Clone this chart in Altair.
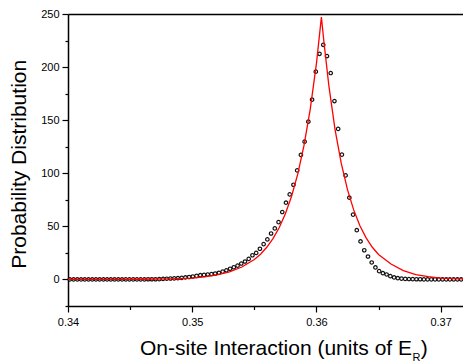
import altair as alt
import pandas as pd

# Sampled probability distribution on a uniform grid of on-site interaction values
U_START = 0.34015
U_STEP = 0.0003
prob = [
    0.0, 0.0, 0.0, 0.0, 0.0, 0.0, 0.0, 0.0, 0.0, 0.0,
    0.0, 0.0, 0.0, 0.0, 0.0, 0.1, 0.1, 0.1, 0.1, 0.1,
    0.1, 0.2, 0.2, 0.2, 0.3, 0.5, 0.7, 0.9, 1.0, 1.2,
    1.5, 1.9, 2.3, 2.8, 3.4, 4.0, 4.3, 4.7, 5.1, 5.6,
    6.3, 7.4, 8.6, 10.1, 11.5, 13.0, 15.0, 16.9, 19.4, 22.8,
    25.0, 28.9, 33.3, 37.7, 43.3, 48.1, 54.0, 63.5, 72.3, 80.1,
    89.2, 102.7, 117.3, 129.8, 148.6, 169.3, 195.7, 212.5, 221.0, 210.4,
    194.4, 168.0, 141.8, 117.6, 98.0, 77.0, 61.1, 46.4, 35.8, 27.5,
    21.6, 16.0, 11.3, 7.8, 5.9, 4.7, 3.1, 1.9, 1.2, 0.8,
    0.5, 0.4, 0.3, 0.2, 0.2, 0.1, 0.1, 0.1, 0.1, 0.1,
    0.0, 0.0, 0.0, 0.0, 0.0, 0.0,
]
u_points = [round(U_START + U_STEP * k, 5) for k in range(len(prob))]

# Fitted curve
fit_u = [0.340, 0.342, 0.344, 0.346, 0.348, 0.349, 0.350, 0.351, 0.352, 0.353,
         0.354, 0.355, 0.3555, 0.356, 0.3565, 0.357, 0.3575, 0.358, 0.3585, 0.359,
         0.3595, 0.360, 0.3604, 0.3606, 0.361, 0.3615, 0.362, 0.3625, 0.363, 0.3635,
         0.364, 0.3645, 0.365, 0.366, 0.367, 0.368, 0.369, 0.370, 0.371, 0.372]
fit_p = [0.0, 0.0, 0.1, 0.2, 0.5, 0.8, 1.3, 2.4, 4.3, 7.2,
         11.7, 18.8, 23.8, 30.3, 38.4, 48.7, 61.8, 78.4, 99.5, 126.2,
         160.2, 203.2, 247.0, 224.1, 182.5, 141.2, 109.3, 84.6, 65.5, 50.6,
         39.2, 30.3, 23.5, 14.5, 8.4, 4.6, 2.6, 1.3, 0.7, 0.4]

x_ticks = [0.34, 0.345, 0.35, 0.355, 0.36, 0.365, 0.37]
y_ticks = [-25, 0, 25, 50, 75, 100, 125, 150, 175, 200, 225, 250]

X_DOMAIN = [0.34, 0.3718]
Y_DOMAIN = [-25, 250]
FONT = "Liberation Sans"

points_df = pd.DataFrame({"u": u_points, "p": prob})
fit_df = pd.DataFrame({"u": fit_u, "p": fit_p})

x_scale = alt.Scale(domain=X_DOMAIN, nice=False, zero=False)
y_scale = alt.Scale(domain=Y_DOMAIN, nice=False, zero=False)

x_axis_bottom = alt.Axis(
    orient="bottom",
    values=x_ticks,
    labelExpr="round(datum.value * 1000) % 10 === 0 ? format(datum.value, '.2f') : ''",
    tickSize={"condition": {"test": "round(datum.value * 1000) % 10 === 0", "value": 6}, "value": 3.5},
    tickColor="black",
    tickWidth=1.2,
    domainColor="black",
    domainWidth=1.5,
    labelFont=FONT,
    labelFontSize=11,
    labelColor="black",
    labelPadding=4,
    labelFlush=False,
    grid=False,
    title=None,
)

x_axis_top = alt.Axis(
    orient="top",
    labels=False,
    ticks=False,
    domainColor="black",
    domainWidth=1.5,
    grid=False,
    title=None,
)

y_axis = alt.Axis(
    orient="left",
    values=y_ticks,
    labelExpr="datum.value % 50 === 0 ? datum.label : ''",
    tickSize={"condition": {"test": "datum.value % 50 === 0", "value": 6}, "value": 3},
    tickColor="black",
    tickWidth=1.2,
    domainColor="black",
    domainWidth=1.5,
    labelFont=FONT,
    labelFontSize=11,
    labelColor="black",
    labelPadding=3,
    labelFlush=False,
    grid=False,
    title=None,
)

points = alt.Chart(points_df).mark_point(
    shape="circle", filled=False, size=12, strokeWidth=1.2, color="#111111", opacity=1
).encode(
    x=alt.X("u:Q", scale=x_scale, axis=x_axis_bottom),
    y=alt.Y("p:Q", scale=y_scale, axis=y_axis),
)

fit_line = alt.Chart(fit_df).mark_line(color="#ff0000", strokeWidth=1.3, clip=True).encode(
    x=alt.X("u:Q", scale=x_scale, axis=x_axis_top),
    y=alt.Y("p:Q", scale=y_scale, axis=y_axis),
)

one = pd.DataFrame({"k": [0]})

y_title = alt.Chart(one).mark_text(
    text="Probability Distribution", font=FONT, fontSize=21, color="black",
    angle=270, align="center", baseline="alphabetic",
).encode(x=alt.value(-42.5), y=alt.value(150.3))

x_title_main = alt.Chart(one).mark_text(
    text="On-site Interaction (units of E", font=FONT, fontSize=21, color="black",
    align="right", baseline="alphabetic",
).encode(x=alt.value(344), y=alt.value(341))

x_title_sub = alt.Chart(one).mark_text(
    text="R", font=FONT, fontSize=11, color="black",
    align="left", baseline="alphabetic",
).encode(x=alt.value(344.5), y=alt.value(346.5))

x_title_close = alt.Chart(one).mark_text(
    text=")", font=FONT, fontSize=21, color="black",
    align="left", baseline="alphabetic",
).encode(x=alt.value(352.8), y=alt.value(341))

chart = (
    alt.layer(points, fit_line, y_title, x_title_main, x_title_sub, x_title_close)
    .resolve_axis(x="independent")
    .properties(
        width=395,
        height=292,
        autosize=alt.AutoSizeParams(type="none"),
        padding={"left": 68, "top": 14, "right": 0, "bottom": 56},
        background="white",
    )
    .configure_view(stroke="transparent")
)

chart.save("out.html", embed_options={"renderer": "svg", "actions": False})
